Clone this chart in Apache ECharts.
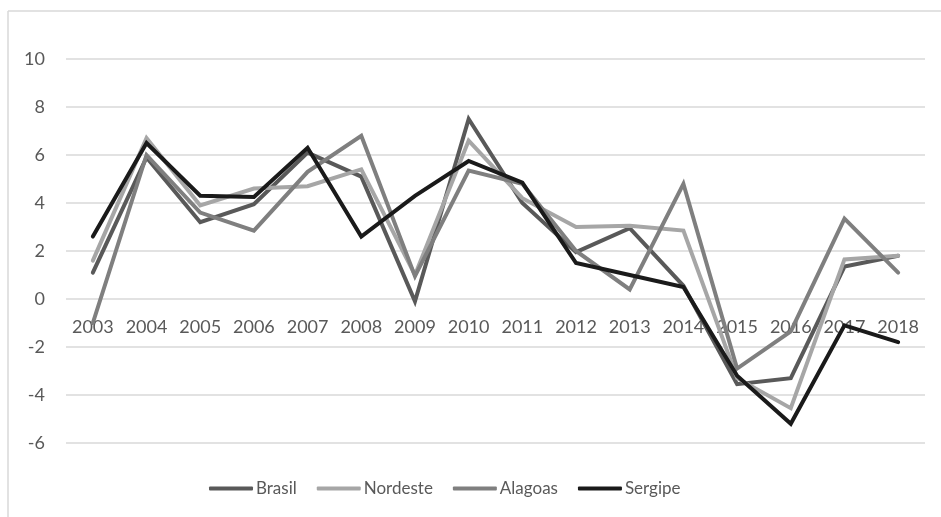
<!DOCTYPE html>
<html>
<head>
<meta charset="utf-8">
<script src="https://cdn.jsdelivr.net/npm/echarts@6/dist/echarts.min.js"></script>
<style>
  html, body { margin: 0; padding: 0; background: #fff; }
  #chart { width: 941px; height: 517px; }
</style>
</head>
<body>
<div id="chart"></div>
<script>
// categorias (anos)
const years = ['2003','2004','2005','2006','2007','2008','2009','2010','2011','2012','2013','2014','2015','2016','2017','2018'];

// séries
const brasil   = [1.1, 5.9, 3.2, 3.95, 6.1, 5.1, -0.1, 7.5, 4.0, 1.95, 2.95, 0.55, -3.55, -3.3, 1.35, 1.8];
const nordeste = [1.6, 6.7, 3.9, 4.6, 4.7, 5.4, 1.0, 6.6, 4.2, 3.0, 3.05, 2.85, -3.3, -4.55, 1.65, 1.8];
const alagoas  = [-1.0, 6.0, 3.6, 2.85, 5.3, 6.8, 0.95, 5.35, 4.8, 2.0, 0.4, 4.8, -2.9, -1.35, 3.35, 1.1];
const sergipe  = [2.6, 6.5, 4.3, 4.25, 6.3, 2.6, 4.3, 5.75, 4.85, 1.5, 1.0, 0.5, -3.2, -5.2, -1.1, -1.8];

const yTicks = [-6, -4, -2, 0, 2, 4, 6, 8, 10];

const chart = echarts.init(document.getElementById('chart'));

const font = 'Lato, "Open Sans", sans-serif';

// altura da grade: 384px para 16 unidades -> zero fica 6*24 acima da base
const gridTop = 59, gridBottom = 74;
const zeroOffset = -(517 - gridBottom - gridTop) * (0 - yTicks[0]) / (yTicks[yTicks.length - 1] - yTicks[0]);

const mkSeries = (name, data, color) => ({
    name: name,
    type: 'line',
    data: data,
    symbol: 'none',
    lineStyle: { color: color, width: 4, cap: 'round', join: 'miter' },
    itemStyle: { color: color },
    animation: false
});

chart.setOption({
    backgroundColor: '#fff',
    textStyle: { fontFamily: font },
    grid: {
        left: 66,
        right: 16,
        top: gridTop,
        bottom: gridBottom
    },
    xAxis: {
        type: 'category',
        data: years,
        boundaryGap: true,
        position: 'bottom',
        offset: zeroOffset,
        axisLine: { show: false, onZero: false },
        axisTick: { show: false },
        axisLabel: {
            color: '#595959',
            fontSize: 18,
            fontFamily: font,
            margin: 19,
            interval: 0
        }
    },
    yAxis: {
        type: 'value',
        min: yTicks[0],
        max: yTicks[yTicks.length - 1],
        interval: 2,
        axisLine: { show: false },
        axisTick: { show: false },
        splitLine: { lineStyle: { color: '#d9d9d9', width: 1.5 } },
        axisLabel: {
            color: '#595959',
            fontSize: 18,
            fontFamily: font,
            margin: 21
        }
    },
    legend: {
        bottom: 15,
        left: 204,
        itemWidth: 44,
        itemHeight: 4,
        itemGap: 20,
        icon: 'roundRect',
        textStyle: { color: '#595959', fontSize: 17, fontFamily: font, padding: [0, 0, 0, -2] },
        data: ['Brasil', 'Nordeste', 'Alagoas', 'Sergipe']
    },
    graphic: [
        { type: 'line', shape: { x1: 8, y1: 11, x2: 941, y2: 11 }, style: { stroke: '#d9d9d9', lineWidth: 1.5 } },
        { type: 'line', shape: { x1: 8, y1: 11, x2: 8, y2: 517 }, style: { stroke: '#d9d9d9', lineWidth: 1.5 } }
    ],
    series: [
        mkSeries('Brasil', brasil, '#595959'),
        mkSeries('Nordeste', nordeste, '#a6a6a6'),
        mkSeries('Alagoas', alagoas, '#7f7f7f'),
        mkSeries('Sergipe', sergipe, '#1a1a1a')
    ]
});
</script>
</body>
</html>
